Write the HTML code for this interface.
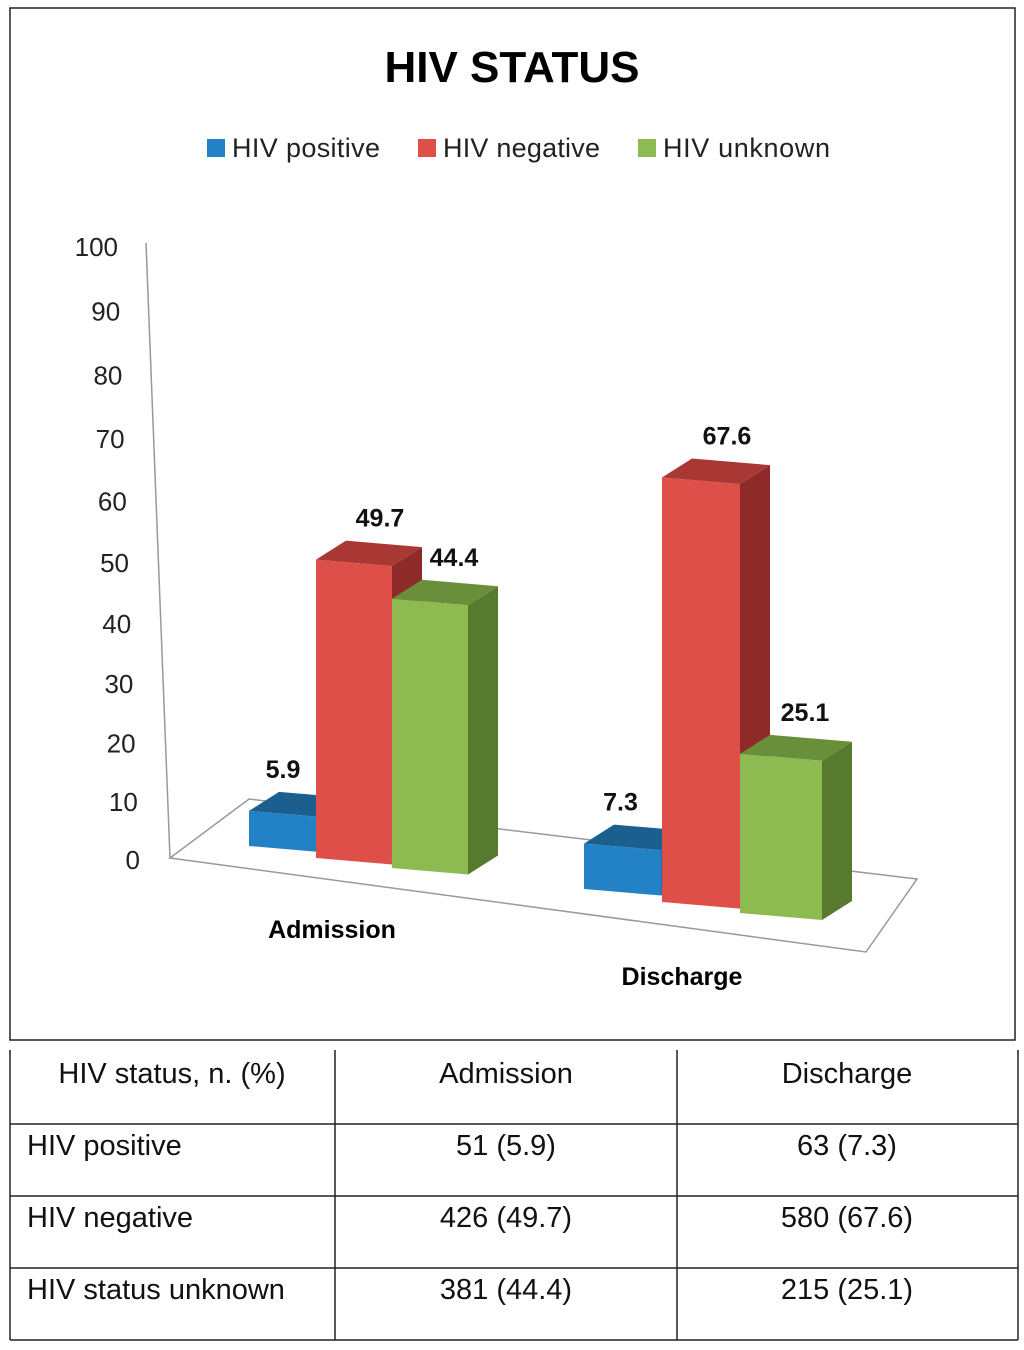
<!DOCTYPE html>
<html><head><meta charset="utf-8"><style>
body{margin:0;background:#fff;width:1024px;height:1350px;overflow:hidden;font-family:"Liberation Sans",sans-serif}
svg{position:absolute;left:0;top:0}
</style></head><body>
<svg width="1024" height="1350" font-family="Liberation Sans, sans-serif">
<rect x="10" y="8" width="1005" height="1032" fill="#fff" stroke="#222" stroke-width="1.5"/>
<text x="512" y="82" text-anchor="middle" font-size="44" font-weight="bold">HIV STATUS</text>
<g font-size="27" fill="#222">
<g><rect x="207" y="139" width="18" height="18" fill="#2382c6"/><text x="232" y="157" textLength="148">HIV positive</text></g>
<g><rect x="418" y="139" width="18" height="18" fill="#de4f4a"/><text x="443" y="157" textLength="157">HIV negative</text></g>
<g><rect x="638" y="139" width="18" height="18" fill="#8dbb51"/><text x="663" y="157" textLength="167">HIV unknown</text></g>
</g>
<g fill="none" stroke="#999" stroke-width="1.5">
<line x1="170" y1="858" x2="146" y2="243"/>
<polygon points="170,858 249,799 917,879 866,952" fill="#fff"/>
</g>
<g id="yticks" font-size="26" fill="#222" text-anchor="end"></g>
<g id="bars"></g>
<g id="labels" font-size="25" font-weight="bold" fill="#111" text-anchor="middle"></g>
<text x="332" y="938" text-anchor="middle" font-size="25" font-weight="bold">Admission</text>
<text x="682" y="985" text-anchor="middle" font-size="25" font-weight="bold">Discharge</text>

<g stroke="#222" stroke-width="1.5">
<line x1="10" y1="1050" x2="10" y2="1340"/><line x1="335" y1="1050" x2="335" y2="1340"/>
<line x1="677" y1="1050" x2="677" y2="1340"/><line x1="1018" y1="1050" x2="1018" y2="1340"/>
<line x1="10" y1="1124" x2="1018" y2="1124"/><line x1="10" y1="1196" x2="1018" y2="1196"/>
<line x1="10" y1="1268" x2="1018" y2="1268"/><line x1="10" y1="1340" x2="1018" y2="1340"/>
</g>
<g font-size="29" fill="#111" stroke="none">
<text x="172" y="1083" text-anchor="middle">HIV status, n. (%)</text>
<text x="506" y="1083" text-anchor="middle">Admission</text>
<text x="847" y="1083" text-anchor="middle">Discharge</text>
<text x="27" y="1155">HIV positive</text>
<text x="506" y="1155" text-anchor="middle">51 (5.9)</text>
<text x="847" y="1155" text-anchor="middle">63 (7.3)</text>
<text x="27" y="1227">HIV negative</text>
<text x="506" y="1227" text-anchor="middle">426 (49.7)</text>
<text x="847" y="1227" text-anchor="middle">580 (67.6)</text>
<text x="27" y="1299">HIV status unknown</text>
<text x="506" y="1299" text-anchor="middle">381 (44.4)</text>
<text x="847" y="1299" text-anchor="middle">215 (25.1)</text>
</g>
</svg>
<script>
const categories = ["Admission", "Discharge"];
const positive = [5.9, 7.3];
const negative = [49.7, 67.6];
const unknown = [44.4, 25.1];
const tickValues = [0, 10, 20, 30, 40, 50, 60, 70, 80, 90, 100];

const NS = "http://www.w3.org/2000/svg";
function yWall(v){ return 860 - 5.75*v - 0.0038*v*v; }
function k(x){ return 5.95 + (x-250)*0.0008; }
const yt = document.getElementById('yticks');
tickValues.forEach(v=>{
  const t = document.createElementNS(NS,'text');
  t.setAttribute('x', 140 - 0.22*v);
  t.setAttribute('y', yWall(v) + 9);
  t.textContent = v;
  
  
  yt.appendChild(t);
});
// slot geometry: [front-left x, width, baseline y at left]
const slots = [
  [[249,72,846],[316,76,858],[392,76,868]],
  [[584,77,889],[662,78,902],[740,82,913]]
];
const labelDx = [-2, 26, 24];
const series = [positive, negative, unknown];
const sNames = ["positive","negative","unknown"];
const colors = [["#2382c6","#1b5f8f","#1d6ca3"],["#de4f4a","#a93835","#8e2b2a"],["#8dbb51","#6a8f3a","#587a2e"]];
const slope = 0.085, dx = 30, dy = -19;
const bars = document.getElementById('bars'), labels = document.getElementById('labels');
categories.forEach((c,ci)=>{
  series.forEach((s,si)=>{
    const [x,w,b] = slots[ci][si];
    const h = s[ci]*k(x);
    const x2 = x+w, bL = b, bR = b + w*slope, tL = bL-h, tR = bR-h;
    const g = document.createElementNS(NS,'g');
    
    
    const faces = [
      [`${x2},${tR} ${x2+dx},${tR+dy} ${x2+dx},${bR+dy} ${x2},${bR}`, colors[si][2]],
      [`${x},${tL} ${x+dx},${tL+dy} ${x2+dx},${tR+dy} ${x2},${tR}`, colors[si][1]],
      [`${x},${tL} ${x2},${tR} ${x2},${bR} ${x},${bL}`, colors[si][0]]
    ];
    faces.forEach(f=>{
      const p = document.createElementNS(NS,'polygon');
      p.setAttribute('points', f[0]); p.setAttribute('fill', f[1]);
      g.appendChild(p);
    });
    bars.appendChild(g);
    const t = document.createElementNS(NS,'text');
    t.setAttribute('x', x + w/2 + labelDx[si]);
    t.setAttribute('y', tL - 33);
    t.textContent = s[ci];
    
    
    labels.appendChild(t);
  });
});
</script>
</body></html>
